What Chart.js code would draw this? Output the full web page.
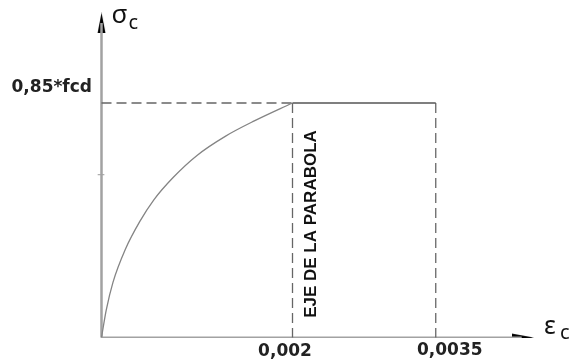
<!DOCTYPE html>
<html><head><meta charset="utf-8">
<script src="https://cdn.jsdelivr.net/npm/chart.js@4.4.1/dist/chart.umd.min.js"></script>
<style>html,body{margin:0;padding:0;background:#fff;}#wrap{width:571px;height:362px;}</style>
</head><body><div id="wrap"><canvas id="c" width="571" height="362"></canvas></div>
<script>
// ---- data ----
const strainPoints = [0, 0.00005, 0.00012, 0.00025, 0.0004, 0.00055, 0.00075, 0.001, 0.0013, 0.0016, 0.002];
const stressPoints = [0, 0.10, 0.20, 0.32, 0.42, 0.50, 0.58, 0.66, 0.73, 0.785, 0.85];
const strainParabolaAxis = 0.002;
const strainUltimate = 0.0035;
const stressDesign = 0.85;
const xTickValues = [0.002, 0.0035];
const xTickLabels = ['0,002', '0,0035'];
const yTickValues = [0.85];
const yTickLabels = ['0,85*fcd'];
const yMinorTick = 0.59;
const xAxisEnd = 0.0044;
const yAxisEnd = 1.14;
const xArrowAt = 0.00441;
const yArrowAt = 1.14;
const yAxisTitle = ['σ', 'c'];
const xAxisTitle = ['ε', 'c'];
const axisNote = 'EJE DE LA PARABOLA';

// ---- arrow heads as point images ----
function arrowImg(dir) {
  const c = document.createElement('canvas');
  const ctx = c.getContext('2d');
  if (dir === 'right') {
    c.width = 22; c.height = 9;
    ctx.beginPath(); ctx.moveTo(0, 0.5); ctx.lineTo(22, 4.5); ctx.lineTo(0, 8.5); ctx.closePath();
  } else {
    c.width = 9; c.height = 21;
    ctx.beginPath(); ctx.moveTo(0.5, 21); ctx.lineTo(4.5, 0); ctx.lineTo(8.5, 21); ctx.closePath();
  }
  ctx.fillStyle = '#000'; ctx.fill();
  return c;
}

const tickFont = {family: '"DejaVu Sans"', size: 17, weight: 'bold'};
const seg = (a, b) => [a, b];
const noPad = s => { s.paddingTop = 0; s.paddingBottom = 0; s.paddingLeft = 0; s.paddingRight = 0; };

const textPlugin = {
  id: 'texts',
  afterDraw(chart) {
    const ctx = chart.ctx, xs = chart.scales.x, ys = chart.scales.y;
    const x0 = xs.getPixelForValue(0), y0 = ys.getPixelForValue(0);
    ctx.save();
    ctx.fillStyle = '#111';
    ctx.textBaseline = 'alphabetic';
    ctx.textAlign = 'left';
    // sigma_c
    ctx.font = '26px "Noto Sans"';
    ctx.fillText(yAxisTitle[0], x0 + 10, 23);
    ctx.font = '20px "Noto Sans"';
    ctx.fillText(yAxisTitle[1], x0 + 27, 29);
    // epsilon_c
    ctx.font = '25px "Noto Sans"';
    ctx.fillText(xAxisTitle[0], 544, y0 - 4);
    ctx.font = '20px "Noto Sans"';
    ctx.fillText(xAxisTitle[1], 560, y0 + 1);
    // rotated note
    const xp = xs.getPixelForValue(strainParabolaAxis) + 19;
    ctx.translate(xp, 224);
    ctx.rotate(-Math.PI / 2);
    ctx.textAlign = 'center';
    ctx.textBaseline = 'middle';
    ctx.font = 'bold 17px "Liberation Sans"';
    ctx.fillText(axisNote, 0, 0);
    ctx.restore();
  }
};

const dash = [10, 5];
new Chart(document.getElementById('c'), {
  type: 'scatter',
  data: {
    datasets: [
      {data: strainPoints.map((e, i) => ({x: e, y: stressPoints[i]})), showLine: true,
       borderColor: '#848484', borderWidth: 1.3, pointRadius: 0, cubicInterpolationMode: 'monotone'},
      {data: seg({x: 0, y: stressDesign}, {x: strainParabolaAxis, y: stressDesign}), showLine: true,
       borderColor: '#666', borderWidth: 1.3, borderDash: dash, pointRadius: 0},
      {data: seg({x: strainParabolaAxis, y: stressDesign}, {x: strainUltimate, y: stressDesign}), showLine: true,
       borderColor: '#555', borderWidth: 1.3, pointRadius: 0},
      {data: seg({x: strainParabolaAxis, y: stressDesign}, {x: strainParabolaAxis, y: 0}), showLine: true,
       borderColor: '#666', borderWidth: 1.3, borderDash: dash, pointRadius: 0},
      {data: seg({x: strainUltimate, y: stressDesign}, {x: strainUltimate, y: 0}), showLine: true,
       borderColor: '#666', borderWidth: 1.3, borderDash: dash, pointRadius: 0},
      {data: seg({x: 0, y: 0}, {x: xAxisEnd, y: 0}), showLine: true,
       borderColor: '#a2a2a2', borderWidth: 2, pointRadius: 0},
      {data: seg({x: 0, y: 0}, {x: 0, y: yAxisEnd}), showLine: true,
       borderColor: '#a2a2a2', borderWidth: 2.5, pointRadius: 0},
      {data: seg({x: -0.00004, y: yMinorTick}, {x: 0.00003, y: yMinorTick}), showLine: true,
       borderColor: '#999', borderWidth: 1, pointRadius: 0},
      {data: [{x: xArrowAt, y: 0}], pointStyle: arrowImg('right'), pointRadius: 10, showLine: false},
      {data: [{x: 0, y: yArrowAt}], pointStyle: arrowImg('up'), pointRadius: 10, showLine: false}
    ]
  },
  options: {
    responsive: false, animation: false, devicePixelRatio: 1,
    layout: {padding: 0, autoPadding: false},
    plugins: {legend: {display: false}, tooltip: {enabled: false}},
    scales: {
      x: {type: 'linear', position: 'bottom', min: -0.0000576, max: 0.0049162,
          grid: {display: false, drawTicks: false}, border: {display: false},
          afterBuildTicks: s => { s.ticks = [{value: xTickValues[0]}]; },
          afterFit: s => { s.height = 24; noPad(s); },
          ticks: {padding: 3, labelOffset: -7.5, font: tickFont, color: '#222', maxRotation: 0, autoSkip: false,
                  callback: () => xTickLabels[0]}},
      x2: {type: 'linear', position: {y: 0}, min: -0.0000576, max: 0.0049162,
          grid: {display: false, drawTicks: false}, border: {display: false},
          afterBuildTicks: s => { s.ticks = [{value: xTickValues[1]}]; },
          afterFit: s => { noPad(s); },
          ticks: {padding: 3, labelOffset: 14, font: tickFont, color: '#222', maxRotation: 0, autoSkip: false,
                  callback: () => xTickLabels[1]}},
      y: {type: 'linear', position: 'left', min: -0.0018, max: 1.2233,
          grid: {display: false, drawTicks: false}, border: {display: false},
          afterBuildTicks: s => { s.ticks = yTickValues.map(v => ({value: v})); },
          afterFit: s => { s.width = 96; noPad(s); },
          ticks: {padding: 4, labelOffset: -15.5, font: tickFont, color: '#222', autoSkip: false,
                  callback: (v, i) => yTickLabels[i]}}
    }
  },
  plugins: [textPlugin]
});
</script></body></html>
